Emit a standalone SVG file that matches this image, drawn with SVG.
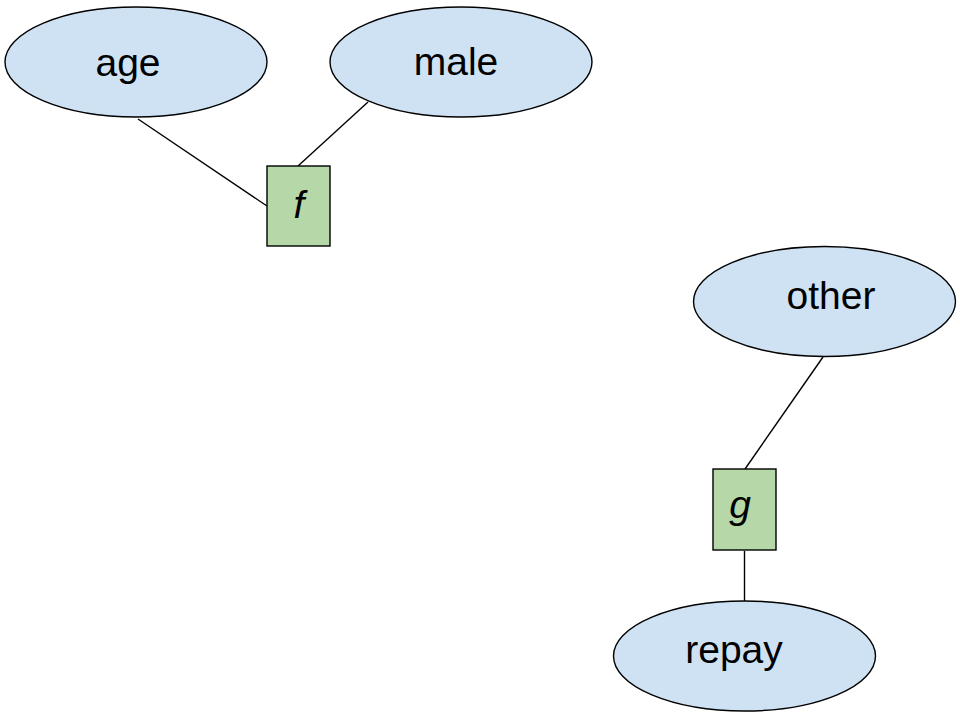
<svg xmlns="http://www.w3.org/2000/svg" width="960" height="720" viewBox="0 0 960 720">
<style>
.var{fill:#cfe2f3;stroke:#000;stroke-width:1.4}
.fac{fill:#b6d7a8;stroke:#000;stroke-width:1.4}
.lbl{font-family:"Liberation Sans",Arial,sans-serif;font-size:39px;fill:#000;text-anchor:middle}
.it{font-style:italic}
.edge{stroke:#000;stroke-width:1.4;fill:none}
</style>
<rect width="960" height="720" fill="#fff"/>
<g id="connectors">
<line class="edge" x1="138" y1="119" x2="267" y2="206"/>
<line class="edge" x1="368" y1="102" x2="298" y2="166"/>
<line class="edge" x1="823" y1="357" x2="745" y2="469"/>
<line class="edge" x1="744.5" y1="551" x2="744.5" y2="601"/>
</g>
<g id="age">
<ellipse class="var" cx="136" cy="62" rx="131" ry="55"/>
<text class="lbl" x="128" y="76">age</text>
</g>
<g id="male">
<ellipse class="var" cx="461" cy="62" rx="131" ry="55"/>
<text class="lbl" x="456" y="75">male</text>
</g>
<g id="f">
<rect class="fac" x="267" y="166" width="63" height="80"/>
<text class="lbl it" x="299" y="218">f</text>
</g>
<g id="other">
<ellipse class="var" cx="824.5" cy="301.5" rx="131" ry="55"/>
<text class="lbl" x="831" y="309">other</text>
</g>
<g id="g">
<rect class="fac" x="713" y="469" width="63" height="81"/>
<text class="lbl it" x="740" y="518">g</text>
</g>
<g id="repay">
<ellipse class="var" cx="744.5" cy="656" rx="131" ry="55"/>
<text class="lbl" x="734" y="663">repay</text>
</g>
</svg>
